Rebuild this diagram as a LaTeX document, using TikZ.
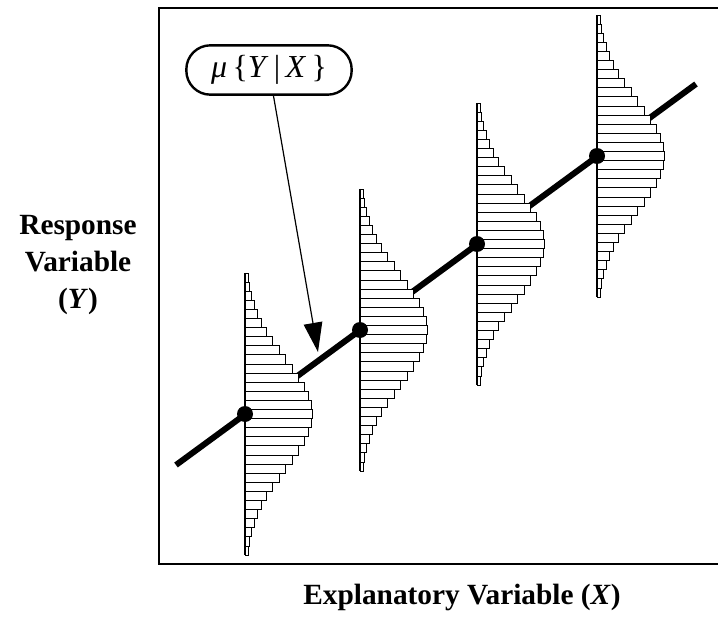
\documentclass[tikz,border=0pt]{standalone}
\usepackage{fontspec}
\setmainfont{Liberation Serif}
\usetikzlibrary{arrows.meta}
\tikzset{
  histbar/.style={draw=black, fill=white, line width=0.6pt},
  histaxis/.style={draw=black, line width=0.9pt},
  regline/.style={draw=black, line width=4.5pt},
  meandot/.style={circle, fill=black, inner sep=0pt, minimum size=12pt},
  frame/.style={draw=black, line width=2.2pt},
  labelbox/.style={draw=black, line width=1.8pt, rounded corners=18pt, minimum width=124pt, minimum height=37pt, inner sep=0pt, font=\fontsize{24}{26}\selectfont},
  axislabel/.style={font=\fontsize{22}{28}\selectfont\bfseries, align=center},
  pointer/.style={draw=black, line width=0.9pt, -{Triangle[length=22pt, width=14pt]}}
}
\newcommand\drawhist[2]{%
  \foreach \k in {-15,...,15} {
    \pgfmathsetmacro\w{67*exp(-(\k*\k)/(2*6.0*6.0))}
    \draw[histbar] (#1, #2+\k*9.1-4.55) rectangle ++(\w, 9.1);
  }
  \draw[histaxis] (#1,#2-15.5*9.1) -- (#1,#2+15.5*9.1);
}
\begin{document}
\begin{tikzpicture}[x=0.75pt, y=-0.75pt]
\useasboundingbox (0,0) rectangle (718,617);
% frame
\draw[frame] (718,8) -- (159,8) -- (159,564) -- (718,564);
% regression line
\coordinate (lstart) at (176,465);
\coordinate (lend) at (696,84);
\draw[regline] (lstart) -- (lend);
% histograms
\drawhist{245}{414}
\drawhist{360}{330}
\drawhist{477}{244}
\drawhist{597}{156}
% mean dots
\node[meandot] (m1) at (245,414) {};
\node[meandot] (m2) at (360,330) {};
\node[meandot] (m3) at (477,244) {};
\node[meandot] (m4) at (597,156) {};
% label
\node[labelbox] (mu) at (269,70) {\textit{μ}\,\{\textit{Y}\,|\,\textit{X}\,\}};
\coordinate (tip) at (318,352);
\draw[pointer] (mu) -- (tip);
% axis labels
\node[axislabel] (ylab) at (78,265) {Response\\Variable\\(\textit{Y})};
\node[axislabel] (xlab) at (462,597) {Explanatory Variable (\textit{X})};
\end{tikzpicture}
\end{document}
